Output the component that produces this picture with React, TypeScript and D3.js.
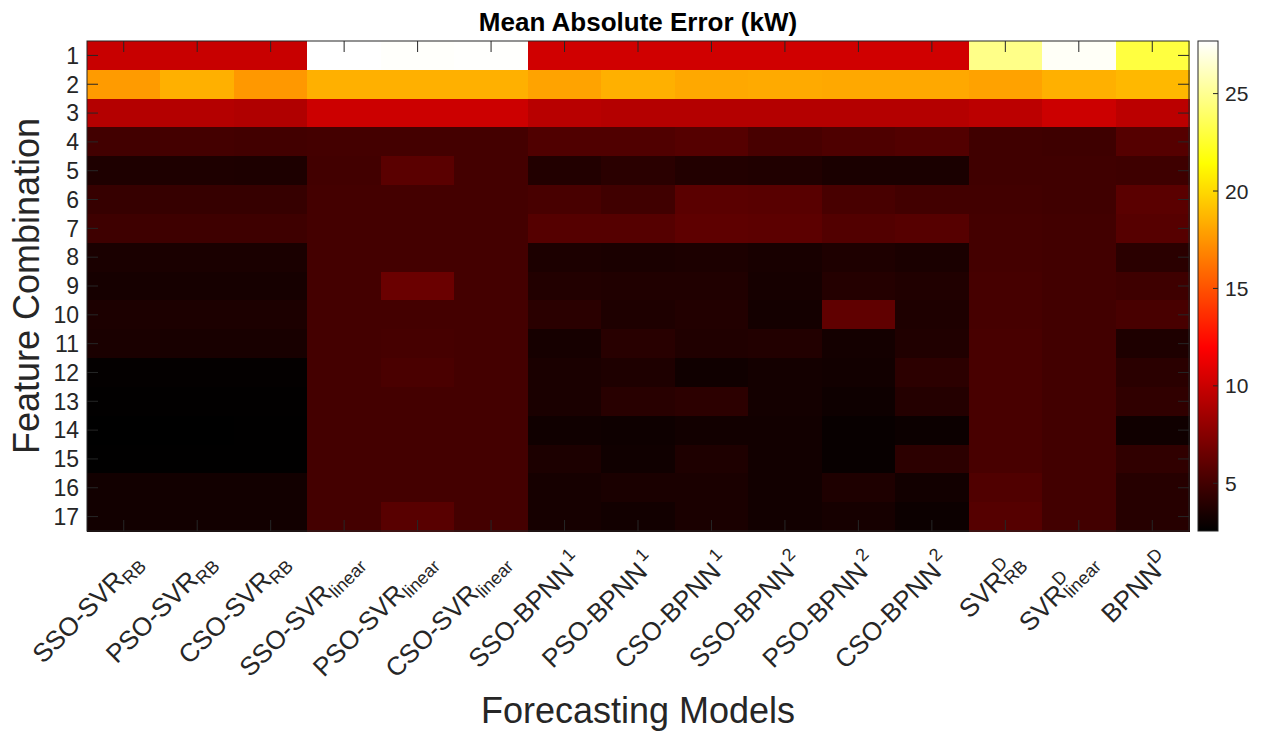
import React from 'react';
import * as d3 from 'd3';

// Feature combinations (rows) and forecasting models (columns)
const featureSets = ['1', '2', '3', '4', '5', '6', '7', '8', '9', '10', '11', '12', '13', '14', '15', '16', '17'];

type ModelLabel = { base: string; sup?: string; sub?: string };
const modelLabels: ModelLabel[] = [
  { base: 'SSO-SVR', sub: 'RB' },
  { base: 'PSO-SVR', sub: 'RB' },
  { base: 'CSO-SVR', sub: 'RB' },
  { base: 'SSO-SVR', sub: 'linear' },
  { base: 'PSO-SVR', sub: 'linear' },
  { base: 'CSO-SVR', sub: 'linear' },
  { base: 'SSO-BPNN', sup: '1' },
  { base: 'PSO-BPNN', sup: '1' },
  { base: 'CSO-BPNN', sup: '1' },
  { base: 'SSO-BPNN', sup: '2' },
  { base: 'PSO-BPNN', sup: '2' },
  { base: 'CSO-BPNN', sup: '2' },
  { base: 'SVR', sup: 'D', sub: 'RB' },
  { base: 'SVR', sup: 'D', sub: 'linear' },
  { base: 'BPNN', sup: 'D' },
];

// MAE (kW) per model, for feature combinations 1..17
const ssoSvrRb = [9.95, 17.7, 9.21, 4.99, 3.66, 4.55, 4.84, 3.51, 3.36, 3.59, 3.51, 2.7, 2.62, 2.55, 2.59, 3.22, 3.22];
const psoSvrRb = [9.95, 18.49, 9.21, 5.06, 3.66, 4.55, 4.84, 3.51, 3.36, 3.59, 3.44, 2.7, 2.62, 2.56, 2.59, 3.22, 3.22];
const csoSvrRb = [9.95, 17.6, 9.06, 4.99, 3.63, 4.55, 4.84, 3.51, 3.36, 3.59, 3.44, 2.69, 2.62, 2.57, 2.6, 3.22, 3.22];
const ssoSvrLinear = [27.7, 18.49, 10.09, 5.06, 5.0, 5.06, 5.06, 5.06, 5.06, 5.06, 5.06, 5.06, 5.06, 5.06, 5.06, 5.06, 5.06];
const psoSvrLinear = [27.6, 18.49, 10.09, 5.06, 5.88, 5.06, 5.06, 5.06, 6.47, 5.06, 5.13, 5.29, 5.06, 5.06, 5.06, 5.06, 5.8];
const csoSvrLinear = [27.65, 18.49, 10.09, 5.06, 5.06, 5.06, 5.06, 5.06, 5.06, 5.06, 5.06, 5.06, 5.06, 5.06, 5.06, 5.06, 5.06];
const ssoBpnn1 = [10.24, 18.0, 9.35, 5.51, 3.81, 5.21, 5.69, 3.59, 3.81, 4.1, 3.36, 3.51, 3.51, 3.14, 3.59, 3.36, 3.36];
const psoBpnn1 = [10.24, 18.49, 9.21, 5.51, 4.1, 4.92, 5.69, 3.51, 3.73, 3.66, 4.03, 3.66, 4.03, 3.07, 3.14, 3.51, 3.22];
const csoBpnn1 = [10.24, 18.19, 9.21, 5.69, 3.81, 5.88, 6.03, 3.59, 3.73, 3.81, 3.73, 3.14, 4.18, 3.22, 3.66, 3.51, 3.51];
const ssoBpnn2 = [10.24, 18.27, 9.21, 5.21, 3.73, 5.8, 5.95, 3.44, 3.36, 3.29, 3.81, 3.29, 3.29, 3.22, 3.22, 3.22, 3.22];
const psoBpnn2 = [10.24, 18.19, 9.21, 5.43, 3.51, 5.21, 5.58, 3.66, 3.88, 6.1, 3.29, 3.22, 3.07, 2.85, 2.85, 3.66, 3.36];
const csoBpnn2 = [10.24, 18.19, 9.21, 5.58, 3.51, 4.99, 5.73, 3.51, 3.73, 3.66, 3.73, 4.18, 3.88, 2.99, 4.18, 3.22, 2.99];
const svrDRb = [24.76, 17.97, 9.47, 4.92, 4.92, 4.99, 5.06, 5.06, 5.13, 5.13, 5.21, 5.21, 5.21, 5.21, 5.21, 5.51, 5.69];
const svrDLinear = [27.5, 18.49, 10.09, 4.84, 4.92, 4.92, 4.99, 4.99, 4.99, 4.99, 4.99, 4.99, 4.99, 4.99, 4.99, 4.99, 4.99];
const bpnnD = [22.99, 18.78, 9.47, 5.69, 4.84, 5.88, 5.73, 4.1, 4.84, 5.21, 3.66, 4.1, 4.33, 3.14, 4.33, 3.96, 3.96];

const maeByModel = [
  ssoSvrRb, psoSvrRb, csoSvrRb,
  ssoSvrLinear, psoSvrLinear, csoSvrLinear,
  ssoBpnn1, psoBpnn1, csoBpnn1,
  ssoBpnn2, psoBpnn2, csoBpnn2,
  svrDRb, svrDLinear, bpnnD,
];

const colorbarTicks = [5, 10, 15, 20, 25];

// "hot" colormap: black -> red -> yellow -> white
function hot(t: number): string {
  const c = (v: number) => Math.max(0, Math.min(1, v));
  const r = c(t / 0.375);
  const g = c((t - 0.375) / 0.375);
  const b = c((t - 0.75) / 0.25);
  return d3.rgb(r * 255, g * 255, b * 255).formatHex();
}

const W = 1262;
const H = 734;
const plot = { left: 87, right: 1189, top: 41, bottom: 531 };
const cbar = { left: 1198, right: 1218 };
const FONT = '"Liberation Sans", Arial, Helvetica, sans-serif';
const AXIS = '#262626';

export default function App() {
  const colIds = modelLabels.map((_, i) => String(i));
  const x = d3.scaleBand<string>().domain(colIds).range([plot.left, plot.right]);
  const y = d3.scaleBand<string>().domain(featureSets).range([plot.top, plot.bottom]);

  const all = maeByModel.flat();
  const [vmin, vmax] = d3.extent(all) as [number, number];
  const color = d3.scaleSequential(hot).domain([vmin, vmax]);
  const cy = d3.scaleLinear().domain([vmin, vmax]).range([plot.bottom, plot.top]);

  const stops = d3.range(0, 1.0001, 1 / 64);

  const supRise = 12;
  const subDrop = 5;
  const tickFs = 26;
  const smallFs = 18;

  return (
    <svg width={W} height={H} style={{ position: 'absolute', left: 0, top: 0, background: '#fff' }} fontFamily={FONT}>
      <defs>
        <linearGradient id="hotGrad" x1="0" y1="1" x2="0" y2="0">
          {stops.map((t, i) => (
            <stop key={i} offset={t} stopColor={hot(t)} />
          ))}
        </linearGradient>
      </defs>

      {/* heatmap cells */}
      <g shapeRendering="crispEdges">
        {maeByModel.map((col, ci) =>
          col.map((v, ri) => (
            <rect
              key={`${ci}-${ri}`}
              x={x(String(ci))!}
              y={y(featureSets[ri])!}
              width={x.bandwidth() + 0.5}
              height={y.bandwidth() + 0.5}
              fill={color(v)}
            />
          ))
        )}
      </g>

      {/* axes box and inward ticks */}
      <g stroke={AXIS} strokeWidth={1} fill="none">
        <rect x={plot.left} y={plot.top} width={plot.right - plot.left} height={plot.bottom - plot.top} />
        {colIds.map((id) => {
          const cx = x(id)! + x.bandwidth() / 2;
          return (
            <g key={id}>
              <line x1={cx} x2={cx} y1={plot.top} y2={plot.top + 11} />
              <line x1={cx} x2={cx} y1={plot.bottom} y2={plot.bottom - 11} />
            </g>
          );
        })}
        {featureSets.map((f) => {
          const yy = y(f)! + y.bandwidth() / 2;
          return (
            <g key={f}>
              <line x1={plot.left} x2={plot.left + 11} y1={yy} y2={yy} />
              <line x1={plot.right} x2={plot.right - 11} y1={yy} y2={yy} />
            </g>
          );
        })}
      </g>

      {/* y tick labels */}
      <g fill={AXIS} fontSize={23} textAnchor="end">
        {featureSets.map((f) => (
          <text key={f} x={plot.left - 8} y={y(f)! + y.bandwidth() / 2} dy="0.36em">
            {f}
          </text>
        ))}
      </g>

      {/* x tick labels, rotated */}
      <g fill={AXIS} fontSize={tickFs}>
        {modelLabels.map((m, i) => {
          const cx = x(String(i))! + x.bandwidth() / 2;
          const supW = m.sup ? m.sup.length * 0.72 * smallFs : 0;
          return (
            <text key={i} transform={`translate(${cx + 20},564) rotate(-45)`} textAnchor="end">
              <tspan>{m.base}</tspan>
              {m.sup && (
                <tspan fontSize={smallFs} dx={m.sup === '1' || m.sup === '2' ? 3 : 0} dy={-supRise}>
                  {m.sup}
                </tspan>
              )}
              {m.sub && (
                <tspan fontSize={smallFs} dx={m.sup ? -supW : 0} dy={m.sup ? supRise + subDrop : subDrop}>
                  {m.sub}
                </tspan>
              )}
            </text>
          );
        })}
      </g>

      {/* colorbar */}
      <rect x={cbar.left} y={plot.top} width={cbar.right - cbar.left} height={plot.bottom - plot.top} fill="url(#hotGrad)" />
      <rect
        x={cbar.left}
        y={plot.top}
        width={cbar.right - cbar.left}
        height={plot.bottom - plot.top}
        fill="none"
        stroke={AXIS}
        strokeWidth={1}
      />
      <g stroke={AXIS} strokeWidth={1}>
        {colorbarTicks.map((t) => (
          <line key={t} x1={cbar.right - 5} x2={cbar.right} y1={cy(t)} y2={cy(t)} />
        ))}
      </g>
      <g fill={AXIS} fontSize={21}>
        {colorbarTicks.map((t) => (
          <text key={t} x={cbar.right + 7} y={cy(t)} dy="0.36em">
            {t}
          </text>
        ))}
      </g>

      {/* titles */}
      <text x={(plot.left + plot.right) / 2} y={31} textAnchor="middle" fontSize={26} fontWeight="bold" fill="#000">
        Mean Absolute Error (kW)
      </text>
      <text
        transform={`translate(39,${(plot.top + plot.bottom) / 2}) rotate(-90)`}
        textAnchor="middle"
        fontSize={36}
        fill={AXIS}
      >
        Feature Combination
      </text>
      <text x={(plot.left + plot.right) / 2} y={723} textAnchor="middle" fontSize={36} fill={AXIS}>
        Forecasting Models
      </text>
    </svg>
  );
}
